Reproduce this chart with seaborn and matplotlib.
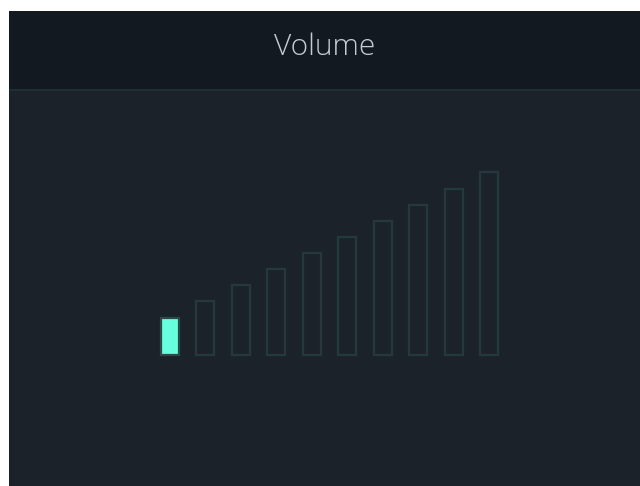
import matplotlib
matplotlib.use("Agg")
import matplotlib.pyplot as plt
import seaborn as sns
import pandas as pd

# volume levels and bar heights (px units)
levels = ["1", "2", "3", "4", "5", "6", "7", "8", "9", "10"]
heights = [37, 54, 70, 86, 102, 118, 134, 150, 166, 183]
current_level = 1
title = "Volume"

header_bg = "#121920"
body_bg = "#1b222a"
rule_color = "#1f2d35"
outline = "#26383f"
active = "#66fedd"

df = pd.DataFrame({"level": levels, "height": heights})

fig = plt.figure(figsize=(6.4, 4.86), dpi=100)
fig.patch.set_facecolor("white")

W, H = 640, 486

# header
ax_h = fig.add_axes([9 / W, (H - 89) / H, (W - 9) / W, 78 / H])
ax_h.set_facecolor(header_bg)
ax_h.set_xticks([])
ax_h.set_yticks([])
for s in ax_h.spines.values():
    s.set_visible(False)
ax_h.text(0.5, 0.53, title, ha="center", va="center", fontsize=21.5,
          color="#c5ccd2", family=["Open Sans", "DejaVu Sans"], fontweight="light",
          transform=ax_h.transAxes)

# thin rule under the header
ax_r = fig.add_axes([9 / W, (H - 91) / H, (W - 9) / W, 2 / H])
ax_r.set_facecolor(rule_color)
ax_r.set_xticks([])
ax_r.set_yticks([])
for s in ax_r.spines.values():
    s.set_visible(False)

# body with the bars
ax = fig.add_axes([9 / W, 0, (W - 9) / W, (H - 91) / H])
ax.set_facecolor(body_bg)
fills = [active if i < current_level else body_bg for i in range(len(levels))]
sns.barplot(data=df, x="level", y="height", hue="level", palette=fills,
            legend=False, width=0.507, ax=ax, saturation=1)
for i, p in enumerate(ax.patches):
    if i < current_level:
        p.set_edgecolor("#2a4a48")
    else:
        p.set_edgecolor(outline)
    p.set_linewidth(1.6)

ax.set_xlim(-4.535, 13.24)
ax.set_ylim(-131, 264)
ax.set_xlabel("")
ax.set_ylabel("")
ax.set_xticks([])
ax.set_yticks([])
for s in ax.spines.values():
    s.set_visible(False)

fig.savefig("out.png", dpi=100, facecolor=fig.get_facecolor())
